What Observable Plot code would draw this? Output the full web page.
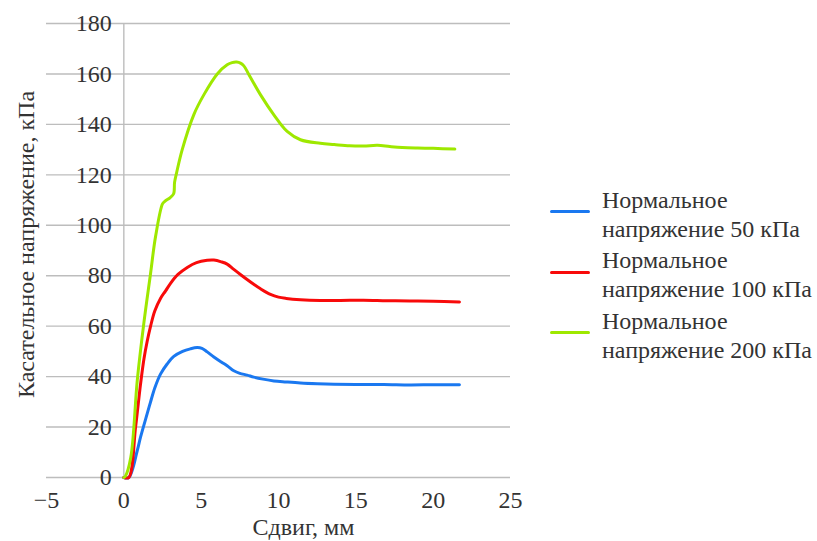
<!DOCTYPE html>
<html lang="ru">
<head>
<meta charset="utf-8">
<script src="https://cdn.jsdelivr.net/npm/d3@7"></script>
<script src="https://cdn.jsdelivr.net/npm/@observablehq/plot@0.6"></script>
<style>
  html, body { margin: 0; padding: 0; background: #fff; }
  #wrap { position: relative; width: 817px; height: 541px; }
  .legend { position: absolute; font-size: 24px; line-height: 29px; color: #333; }
  .legend .entry { position: absolute; left: 0; width: 267px; }
  .legend .swatch { position: absolute; left: 0; width: 40px; height: 0; border-top: 3.5px solid; border-radius: 2px; }
  .legend .label { position: absolute; left: 52px; white-space: nowrap; }
</style>
</head>
<body>
<div id="wrap"></div>
<script>
// Shear displacement, mm
const shear50  = [0, 0.32, 0.87, 1.08, 1.51, 1.73, 2.0, 2.37, 2.8, 3.23, 3.8, 4.3, 4.74, 5.05, 5.39, 5.82, 6.3, 6.68, 7.11, 7.5, 7.97, 8.4, 9.0, 9.7, 10.5, 11.42, 12.5, 13.6, 15, 16.8, 18.5, 20, 21.7];
// Shear stress under 50 kPa normal stress, kPa
const tau50    = [0, 0, 10.7, 16, 25.3, 30, 35.5, 41, 45, 48, 50, 51, 51.5, 51.2, 49.8, 47.8, 45.8, 44.3, 42.3, 41.3, 40.6, 39.8, 39, 38.3, 37.9, 37.5, 37.2, 37, 36.9, 36.9, 36.7, 36.8, 36.8];

const shear100 = [0, 0.32, 0.76, 1.08, 1.3, 1.51, 1.73, 2.0, 2.37, 2.7, 3.02, 3.5, 4.1, 4.7, 5.39, 5.82, 6.3, 6.68, 7.11, 7.6, 7.97, 8.4, 8.84, 9.48, 10.0, 10.5, 11.42, 12.7, 14, 15.5, 17, 18.5, 20, 21.7];
const tau100   = [0, 0, 20, 37, 47, 54, 60, 66, 71, 74, 77, 80.5, 83.3, 85.2, 86.1, 86.2, 85.5, 84.6, 82.5, 80.2, 78.5, 76.6, 74.8, 72.6, 71.5, 71, 70.5, 70.2, 70.2, 70.3, 70.1, 70, 69.9, 69.6];

const shear200 = [0, 0.1, 0.45, 0.87, 1.29, 1.73, 2.05, 2.5, 2.65, 3.0, 3.22, 3.28, 3.4, 3.77, 4.52, 5.17, 6.04, 6.68, 7.0, 7.3, 7.54, 7.76, 8.08, 8.84, 9.7, 10.56, 11.42, 12.7, 13.6, 14.6, 15.5, 16.4, 17.2, 18, 19, 20, 21.4];
const tau200   = [0, 0.5, 8, 38.6, 61, 81, 95.5, 108.5, 109.5, 111, 112.5, 117, 120.5, 129.9, 143.8, 151.7, 160, 163.6, 164.5, 164.7, 164.3, 163.2, 159.8, 151.7, 143.8, 137.2, 133.9, 132.5, 132, 131.5, 131.4, 131.7, 131.2, 130.8, 130.6, 130.5, 130.2];

const seriesNames = ["Нормальное напряжение 50 кПа", "Нормальное напряжение 100 кПа", "Нормальное напряжение 200 кПа"];
const seriesColors = ["#1a78f0", "#f80a0a", "#9ee800"];

const xTicks = [-5, 0, 5, 10, 15, 20, 25];
const yTicks = [0, 20, 40, 60, 80, 100, 120, 140, 160, 180];

const xTitle = "Сдвиг, мм";
const yTitle = "Касательное напряжение, кПа";

const rows = [
  ...shear50.map((s, i) => ({series: seriesNames[0], shear: s, tau: tau50[i]})),
  ...shear100.map((s, i) => ({series: seriesNames[1], shear: s, tau: tau100[i]})),
  ...shear200.map((s, i) => ({series: seriesNames[2], shear: s, tau: tau200[i]}))
];

const font = "'Liberation Serif', 'Times New Roman', Times, 'DejaVu Serif', serif";
const ink = "#333";
const grid = "#bdbdbd";
const fs = 24;

const chart = Plot.plot({
  width: 817,
  height: 541,
  marginLeft: 46,
  marginRight: 307,
  marginTop: 23,
  marginBottom: 64,
  style: {fontFamily: font, fontSize: fs + "px", color: ink, background: "#fff"},
  x: {domain: [-5, 25], label: null, axis: null},
  y: {domain: [0, 180], label: null, axis: null},
  color: {domain: seriesNames, range: seriesColors},
  marks: [
    // horizontal gridlines across the whole frame
    Plot.ruleY(yTicks, {stroke: grid, strokeWidth: 1.4}),
    // vertical axis crossing at zero shear
    Plot.ruleX([0], {y1: 0, y2: 180, stroke: grid, strokeWidth: 1.4}),
    // y tick labels set beside the zero axis
    Plot.text(yTicks, {x: 0, y: d => d, text: d => String(d), textAnchor: "end", dx: -12, fontSize: fs, fill: ink, fontFamily: font}),
    // x tick labels under the zero line
    Plot.text(xTicks, {x: d => d, y: 0, text: d => d < 0 ? "\u2212" + Math.abs(d) : String(d), dy: 23, fontSize: fs, fill: ink, fontFamily: font}),
    Plot.line(rows, {x: "shear", y: "tau", z: "series", stroke: "series", strokeWidth: 3, curve: "catmull-rom"}),
    Plot.text([yTitle], {frameAnchor: "left", rotate: -90, textAnchor: "middle", lineAnchor: "middle", dx: -20, dy: -6, fontSize: fs, fill: ink, fontFamily: font}),
    Plot.text([xTitle], {frameAnchor: "bottom", lineAnchor: "middle", dx: 25, dy: 50, fontSize: fs, fill: ink, fontFamily: font})
  ]
});

const wrap = document.getElementById("wrap");
wrap.appendChild(chart);

// Legend to the right of the plot
const legend = document.createElement("div");
legend.className = "legend";
legend.style.fontFamily = font;
legend.style.left = "550px";
legend.style.top = "0px";
const entryTops = [185.5, 246, 306.5];
seriesNames.forEach((name, i) => {
  const entry = document.createElement("div");
  entry.className = "entry";
  entry.style.top = entryTops[i] + "px";
  const sw = document.createElement("div");
  sw.className = "swatch";
  sw.style.borderTopColor = seriesColors[i];
  sw.style.top = "24.75px";
  const lab = document.createElement("div");
  lab.className = "label";
  const words = name.split(" ");
  lab.innerHTML = words[0] + "<br>" + words.slice(1).join(" ");
  entry.appendChild(sw);
  entry.appendChild(lab);
  legend.appendChild(entry);
});
wrap.appendChild(legend);
</script>
</body>
</html>
